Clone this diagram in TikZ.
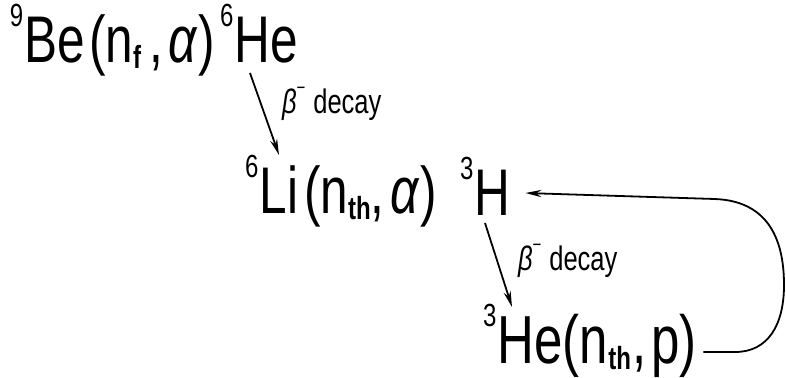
\documentclass[tikz,border=0pt]{standalone}
\usepackage{fontspec}
\setmainfont{Liberation Sans}[FakeStretch=0.75]
\usetikzlibrary{arrows.meta}
\newcommand{\nuc}[2]{\raisebox{0.54em}{\fontsize{16}{16}\selectfont #1}\kern0.02em #2}
\newcommand{\lowsub}[1]{\raisebox{-0.1em}{\fontsize{16}{16}\selectfont\bfseries #1}}
\newcommand{\alp}{\textit{α}}
\begin{document}
\begin{tikzpicture}[x=0.5pt, y=-0.5pt,
    every node/.style={inner sep=0pt, outer sep=0pt, anchor=base west},
    reac/.style={font=\fontsize{33}{35}\selectfont},
    reacbig/.style={font=\fontsize{34}{36}\selectfont},
    declabel/.style={font=\fontsize{17}{19}\selectfont},
    arr/.style={-{Stealth[length=8pt, width=3.6pt]}, line width=0.9pt, black}
]
\useasboundingbox (0,0) rectangle (786,377);
\node[reac] (be)  at (10, 62)   {\nuc{9}{Be}\kern2pt(n\lowsub{f}\kern4pt,\kern3pt\alp)};
\node[reac] (he6) at (220, 62)  {\nuc{6}{He}};
\node[reac] (li)  at (245, 213) {\nuc{6}{Li}\kern3pt(n\lowsub{th},\kern3pt\alp)};
\node[reac] (h3)  at (460, 215) {\nuc{3}{H}};
\node[reacbig] (he3) at (483, 363) {\nuc{3}{He}(n\lowsub{th}\kern1pt,\kern2pt p)};
\node[declabel] (dec1) at (282, 113) {\textit{β}\raisebox{0.55em}{\fontsize{10}{10}\selectfont −}\kern4pt decay};
\node[declabel] (dec2) at (518, 270) {\textit{β}\raisebox{0.55em}{\fontsize{10}{10}\selectfont −}\kern4pt decay};
\draw[arr] ([shift={(30,11)}]he6.base west) -- ([shift={(34,-58)}]li.base west);
\draw[arr] ([shift={(25,8)}]h3.base west) -- ([shift={(29,-56)}]he3.base west);
\draw[line width=0.9pt] ([shift={(7,-11)}]he3.base east) -- (735,352)
    .. controls (768,352) and (784,325) .. (784,285)
    .. controls (784,235) and (765,201) .. (715,199);
\draw[arr] (715,199) -- ([shift={(15,-22)}]h3.base east);
\end{tikzpicture}
\end{document}
